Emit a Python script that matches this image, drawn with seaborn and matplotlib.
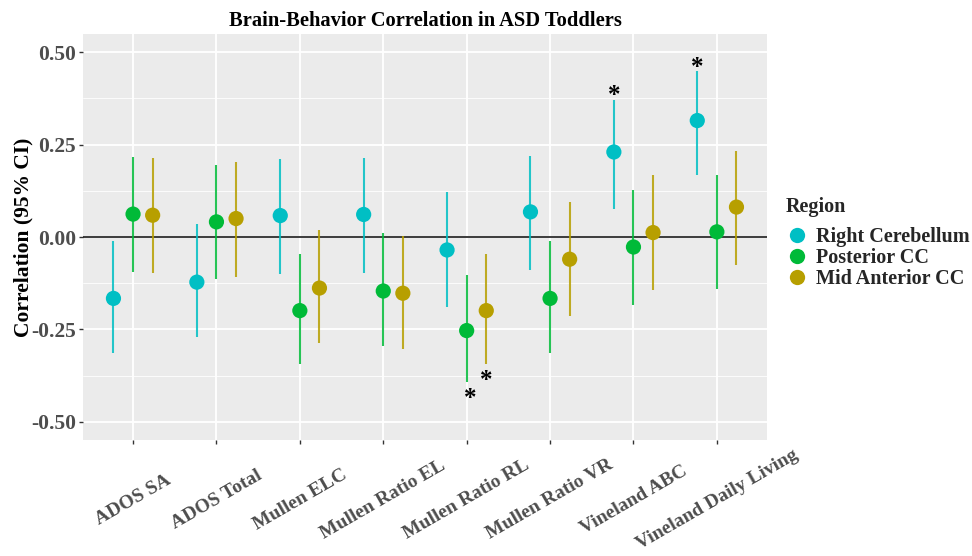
import matplotlib
matplotlib.use("Agg")
import matplotlib.pyplot as plt
import seaborn as sns
import numpy as np
import pandas as pd
from matplotlib.lines import Line2D
from matplotlib.ticker import MultipleLocator

measures = ["ADOS SA", "ADOS Total", "Mullen ELC", "Mullen Ratio EL",
            "Mullen Ratio RL", "Mullen Ratio VR", "Vineland ABC", "Vineland Daily Living"]
regions = ["Right Cerebellum", "Posterior CC", "Mid Anterior CC"]

rc_est = [-0.166, -0.122, 0.058, 0.061, -0.035, 0.068, 0.230, 0.315]
rc_lo = [-0.313, -0.271, -0.099, -0.096, -0.188, -0.089, 0.076, 0.168]
rc_hi = [-0.010, 0.035, 0.212, 0.214, 0.121, 0.220, 0.371, 0.448]

pcc_est = [0.062, 0.041, -0.199, -0.146, -0.253, -0.166, -0.027, 0.014]
pcc_lo = [-0.094, -0.114, -0.344, -0.295, -0.393, -0.313, -0.183, -0.141]
pcc_hi = [0.216, 0.196, -0.046, 0.010, -0.103, -0.011, 0.128, 0.169]

mac_est = [0.059, 0.050, -0.138, -0.152, -0.199, -0.060, 0.012, 0.081]
mac_lo = [-0.096, -0.107, -0.287, -0.302, -0.344, -0.214, -0.144, -0.076]
mac_hi = [0.213, 0.204, 0.018, 0.003, -0.046, 0.095, 0.167, 0.233]

# significance flags (asterisks)
rc_sig = [0, 0, 0, 0, 0, 0, 1, 1]
pcc_sig = [0, 0, 0, 0, 1, 0, 0, 0]
mac_sig = [0, 0, 0, 0, 1, 0, 0, 0]

colors = ["#00BFC4", "#00BA38", "#B79F00"]

rows = []
for r, (est, lo, hi, sig) in zip(regions, [(rc_est, rc_lo, rc_hi, rc_sig),
                                          (pcc_est, pcc_lo, pcc_hi, pcc_sig),
                                          (mac_est, mac_lo, mac_hi, mac_sig)]):
    for i, m in enumerate(measures):
        rows.append(dict(measure=m, region=r, est=est[i], lo=lo[i], hi=hi[i], sig=sig[i]))
df = pd.DataFrame(rows)

offsets = {regions[0]: -0.235, regions[1]: 0.0, regions[2]: 0.235}
df["x"] = df["measure"].map({m: i for i, m in enumerate(measures)}) + df["region"].map(offsets)

sns.set_theme(style="darkgrid", rc={
    "axes.facecolor": "#EBEBEB",
    "grid.color": "white",
})
serif = ["Liberation Serif", "DejaVu Serif"]
plt.rcParams["font.family"] = serif

fig = plt.figure(figsize=(9.72, 5.56), dpi=100)
ax = fig.add_axes([0.0854, 0.2086, 0.7036, 0.7302])

ax.axhline(0, color="#1a1a1a", lw=1.2, zorder=1)
for r, c in zip(regions, colors):
    sub = df[df.region == r]
    ax.vlines(sub["x"], sub["lo"], sub["hi"], color=c, lw=1.5, alpha=0.85, zorder=2)
sns.scatterplot(data=df, x="x", y="est", hue="region", palette=colors,
                hue_order=regions, s=120, edgecolor="none", ax=ax, zorder=3, legend=False)

for _, row in df[df.sig == 1].iterrows():
    if row["est"] > 0:
        ax.text(row["x"], row["hi"] - 0.02, "*", ha="center", va="bottom",
                fontsize=18, color="black", fontweight="bold")
    else:
        ax.text(row["x"] + (0.045 if row["region"] == regions[1] else 0), row["lo"] - 0.075, "*",
                ha="center", va="bottom", fontsize=18, color="black", fontweight="bold")

ax.set_xlim(-0.6, 7.6)
ax.set_ylim(-0.549, 0.549)
ax.set_xticks(range(len(measures)))
ax.set_xticklabels(measures, rotation=30, ha="center", va="center",
                   rotation_mode="anchor", fontsize=14, fontweight="bold", color="#4D4D4D")
ax.set_yticks([-0.5, -0.25, 0, 0.25, 0.5])
ax.set_yticklabels(["-0.50", "-0.25", "0.00", "0.25", "0.50"], fontsize=15.5,
                   fontweight="bold", color="#4D4D4D")
ax.yaxis.set_minor_locator(MultipleLocator(0.125))
ax.grid(which="major", color="white", lw=1.3)
ax.grid(which="minor", axis="y", color="white", lw=0.6)
ax.tick_params(axis="both", which="major", length=3, width=1, color="#333333", bottom=True, left=True)
ax.tick_params(axis="x", pad=40)
ax.tick_params(axis="y", pad=2)
ax.tick_params(which="minor", length=0)
for s in ax.spines.values():
    s.set_visible(False)

ax.set_xlabel("")
ax.set_ylabel("Correlation (95% CI)", fontsize=15.5, fontweight="bold", color="black", labelpad=-2)
ax.set_title("Brain-Behavior Correlation in ASD Toddlers", fontsize=14.8, fontweight="bold",
             color="black", pad=6)

handles = [Line2D([0], [0], marker="o", color="none", markerfacecolor=c, markeredgecolor="none",
                  markersize=11) for c in colors]
leg = ax.legend(handles, regions, title="Region", loc="center left", bbox_to_anchor=(1.015, 0.485),
                frameon=False, prop={"size": 14.5, "weight": "bold", "family": serif},
                handletextpad=0.35, labelspacing=0.05, borderaxespad=0, handlelength=1.2)
leg.get_title().set_fontweight("bold")
leg.get_title().set_fontsize(14.5)
leg._legend_box.align = "left"
leg._legend_box.sep = 7

fig.savefig("out.png", dpi=100)
